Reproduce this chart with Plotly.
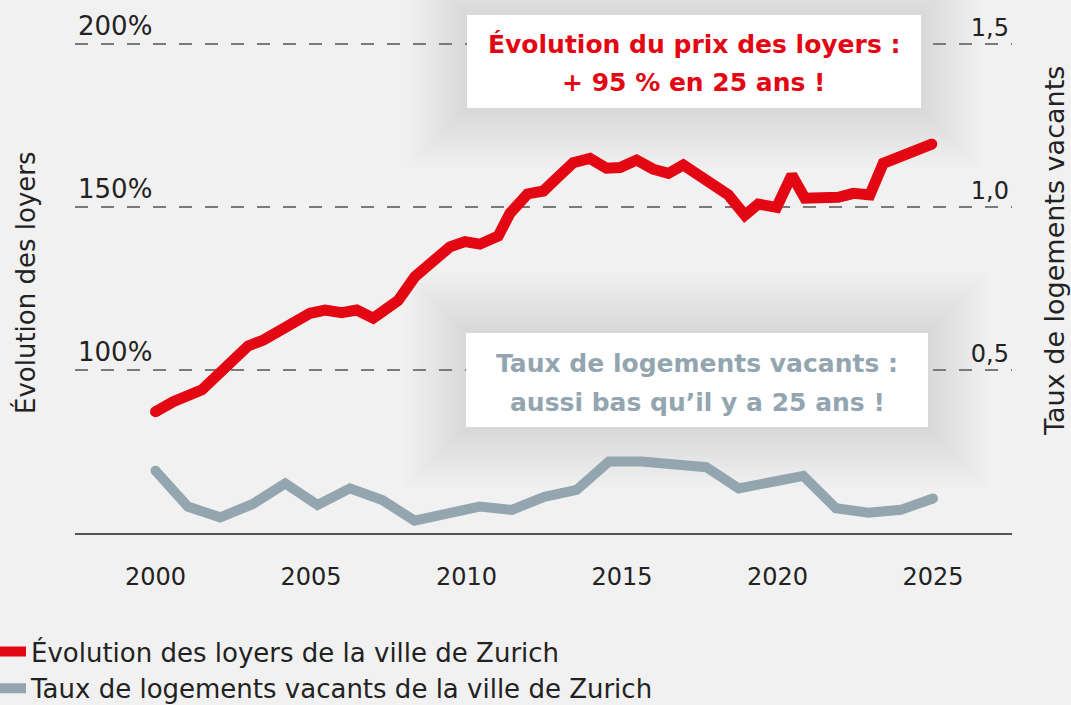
import plotly.graph_objects as go

# ---------------- data ----------------
rent_years = [2000.0, 2000.57, 2001.49, 2002.45, 2002.98, 2003.47, 2004.43, 2004.97,
              2005.45, 2005.99, 2006.47, 2007.0, 2007.8, 2008.34, 2008.88, 2009.47,
              2009.95, 2010.43, 2011.02, 2011.4, 2011.96, 2012.47, 2012.9, 2013.43,
              2013.97, 2014.5, 2014.94, 2015.47, 2016.0, 2016.49, 2016.97, 2017.72,
              2018.42, 2018.95, 2019.38, 2019.97, 2020.46, 2020.88, 2021.42, 2021.95,
              2022.44, 2022.97, 2023.4, 2023.88, 2024.37, 2024.96]
rent_index = [87.2, 90.3, 93.9, 103.1, 107.4, 109.2, 114.3, 117.4,
              118.4, 117.6, 118.4, 115.9, 121.3, 128.6, 133.0, 137.8,
              139.4, 138.6, 141.1, 148.1, 154.0, 154.9, 158.8, 163.6,
              164.9, 161.9, 162.1, 164.4, 161.6, 160.3, 162.9, 158.3,
              153.7, 147.5, 150.9, 149.9, 159.8, 152.7, 153.0, 153.0,
              154.2, 153.7, 163.4, 165.4, 167.5, 169.3]

vac_years = [2000.0, 2001.04, 2002.08, 2003.13, 2004.17, 2005.21, 2006.25, 2007.29,
             2008.33, 2009.38, 2010.42, 2011.46, 2012.5, 2013.54, 2014.58, 2015.63,
             2016.67, 2017.71, 2018.75, 2019.79, 2020.83, 2021.88, 2022.92, 2023.96,
             2025.0]
vac_rate = [0.191, 0.081, 0.048, 0.089, 0.152, 0.086, 0.137, 0.101,
            0.038, 0.058, 0.081, 0.071, 0.111, 0.132, 0.219, 0.219,
            0.210, 0.202, 0.137, 0.156, 0.175, 0.076, 0.062, 0.071,
            0.106]

x_ticks = [2000, 2005, 2010, 2015, 2020, 2025]
left_ticks = [100, 150, 200]
left_labels = ["100%", "150%", "200%"]
right_ticks = [0.5, 1.0, 1.5]
right_labels = ["0,5", "1,0", "1,5"]

name_rent = "Évolution des loyers de la ville de Zurich"
name_vac = "Taux de logements vacants de la ville de Zurich"
title_left = "Évolution des loyers"
title_right = "Taux de logements vacants"
note_rent = ["Évolution du prix des loyers :", "+ 95 % en 25 ans !"]
note_vac = ["Taux de logements vacants :", "aussi bas qu’il y a 25 ans !"]

# ---------------- styling ----------------
RED = "#e30613"
GREY = "#93a6b0"
BG = "#f1f1f1"
TXT = "#222222"
FONT = "DejaVu Sans"

W, H = 1071, 705
ML, MR, MT, MB = 75, 59, 0, 172
PW = W - ML - MR
PH = H - MT - MB


def px(xp):
    return (xp - ML) / PW


def py(yp):
    return (H - MB - yp) / PH


fig = go.Figure()

fig.add_trace(go.Scatter(
    x=rent_years, y=rent_index, mode="lines", name=name_rent,
    line=dict(color=RED, width=11), yaxis="y", hoverinfo="skip"))
fig.add_trace(go.Scatter(
    x=vac_years, y=vac_rate, mode="lines", name=name_vac,
    line=dict(color=GREY, width=10), yaxis="y2", hoverinfo="skip"))
# rounded line ends
fig.add_trace(go.Scatter(
    x=[rent_years[0], rent_years[-1]], y=[rent_index[0], rent_index[-1]],
    mode="markers", marker=dict(color=RED, size=11), showlegend=False,
    yaxis="y", hoverinfo="skip"))
fig.add_trace(go.Scatter(
    x=[vac_years[0], vac_years[-1]], y=[vac_rate[0], vac_rate[-1]],
    mode="markers", marker=dict(color=GREY, size=10), showlegend=False,
    yaxis="y2", hoverinfo="skip"))

shapes = []
annotations = []


def add_box(x0, x1, y0, y1, lines, color, yc):
    # soft shadow
    for k in range(1, 13):
        d = k * 5
        shapes.append(dict(type="rect", xref="paper", yref="paper",
                           x0=px(x0 - d), x1=px(x1 + d), y0=py(y1 + d), y1=py(y0 - d),
                           fillcolor="rgba(0,0,0,0.009)", line=dict(width=0),
                           layer="below"))
    shapes.append(dict(type="rect", xref="paper", yref="paper",
                       x0=px(x0), x1=px(x1), y0=py(y1), y1=py(y0),
                       fillcolor="white", line=dict(width=0), layer="above"))
    xc = (x0 + x1) / 2
    for txt, yy in zip(lines, yc):
        annotations.append(dict(xref="paper", yref="paper", x=px(xc), y=py(yy),
                                xanchor="center", yanchor="middle", showarrow=False,
                                text="<b>" + txt + "</b>",
                                font=dict(family=FONT, size=25, color=color)))


add_box(467, 921, 15, 108, note_rent, RED, [44, 82])
add_box(466, 928, 333, 427, note_vac, GREY, [363, 402])

annotations.append(dict(xref="paper", yref="paper", x=px(25), y=py(283),
                        xanchor="center", yanchor="middle", showarrow=False,
                        textangle=-90, text=title_left,
                        font=dict(family=FONT, size=26, color=TXT)))
annotations.append(dict(xref="paper", yref="paper", x=px(1055), y=py(251),
                        xanchor="center", yanchor="middle", showarrow=False,
                        textangle=-90, text=title_right,
                        font=dict(family=FONT, size=27, color=TXT)))

x0_year = 2000 - (155.5 - ML) / 31.1
x1_year = 2000 + (W - MR - 155.5) / 31.1

fig.update_layout(
    width=W, height=H,
    margin=dict(l=ML, r=MR, t=MT, b=MB, autoexpand=False),
    paper_bgcolor=BG, plot_bgcolor="rgba(0,0,0,0)",
    font=dict(family=FONT, size=25, color=TXT),
    showlegend=True,
    legend=dict(x=px(-19), y=py(628), xanchor="left", yanchor="top",
                bgcolor="rgba(0,0,0,0)", itemwidth=40,
                font=dict(family=FONT, size=26, color=TXT),
                tracegroupgap=0),
    xaxis=dict(range=[x0_year, x1_year], tickvals=x_ticks, showgrid=False,
               zeroline=False, showline=True, linecolor="#555555", linewidth=2,
               ticks="", ticklabelstandoff=21,
               tickfont=dict(family=FONT, size=24, color=TXT)),
    yaxis=dict(range=[50, 50 + PH / 3.26], tickvals=left_ticks, ticktext=left_labels,
               ticklabelposition="inside top", showgrid=True, gridcolor="#7a7a7a",
               gridwidth=1.5, griddash="13px,13px", zeroline=False, showline=False,
               ticks="",
               tickfont=dict(family=FONT, size=26, color=TXT)),
    yaxis2=dict(range=[0, PH / 326], overlaying="y", side="right",
                tickvals=right_ticks, ticktext=right_labels,
                ticklabelposition="inside top", showgrid=False, zeroline=False,
                showline=False, ticks="",
                tickfont=dict(family=FONT, size=24, color=TXT)),
    shapes=shapes, annotations=annotations,
)

fig.write_html(
    "out.html",
    config={"displayModeBar": False},
    post_script="document.body.style.margin='0';document.body.style.overflow='hidden';",
)
